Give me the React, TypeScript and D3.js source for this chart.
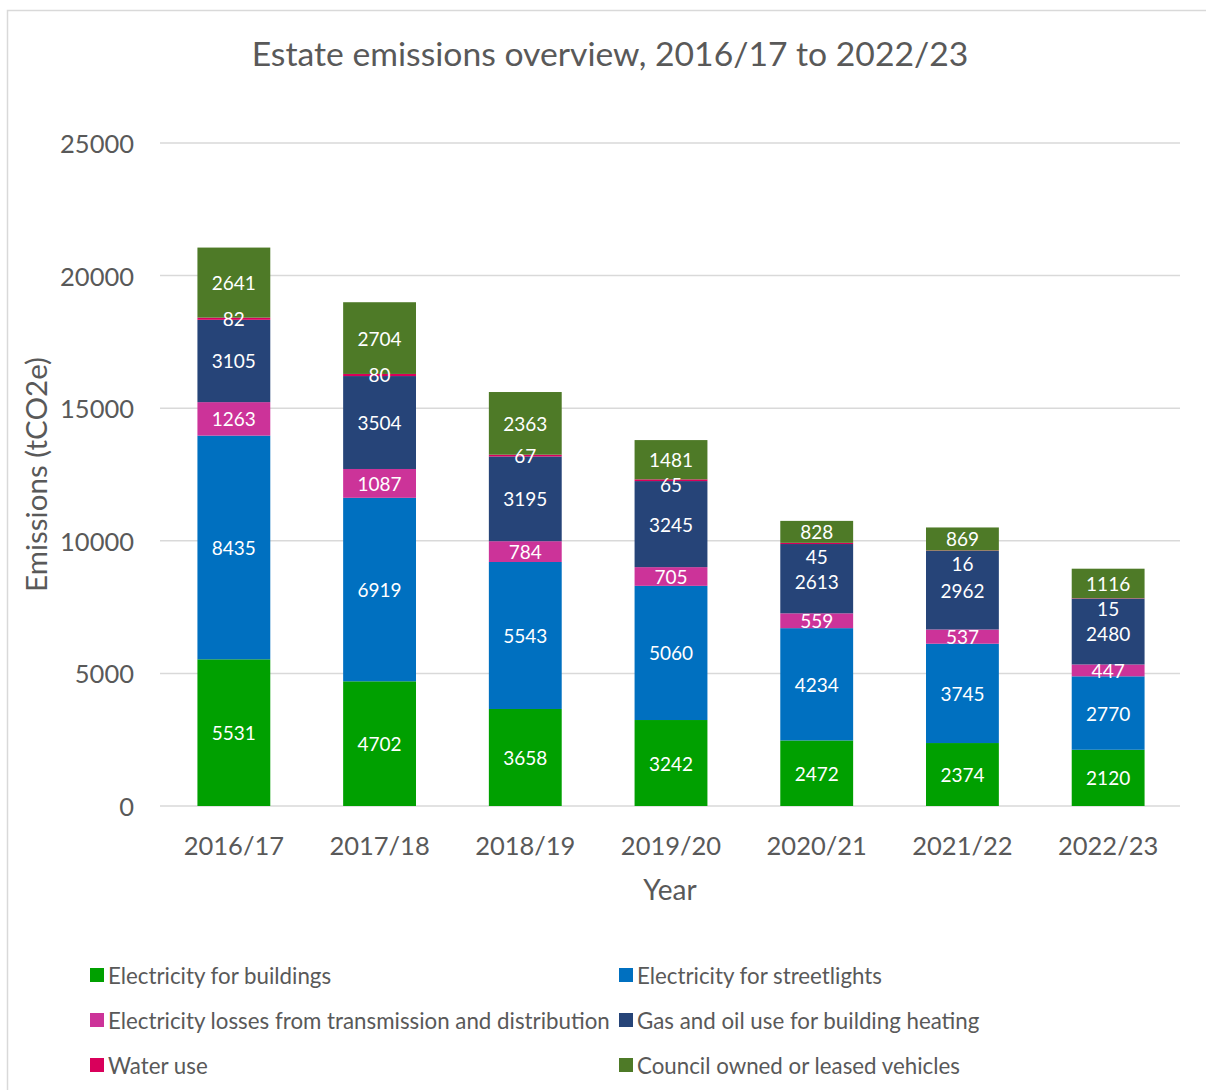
import React, { useEffect } from "react";
import * as d3 from "d3";

const years = ["2016/17", "2017/18", "2018/19", "2019/20", "2020/21", "2021/22", "2022/23"];
const elecBuildings = [5531, 4702, 3658, 3242, 2472, 2374, 2120];
const elecStreetlights = [8435, 6919, 5543, 5060, 4234, 3745, 2770];
const elecLosses = [1263, 1087, 784, 705, 559, 537, 447];
const gasOil = [3105, 3504, 3195, 3245, 2613, 2962, 2480];
const waterUse = [82, 80, 67, 65, 45, 16, 15];
const vehicles = [2641, 2704, 2363, 1481, 828, 869, 1116];
const yTicks = [0, 5000, 10000, 15000, 20000, 25000];

const seriesNames = [
  "Electricity for buildings",
  "Electricity for streetlights",
  "Electricity losses from transmission and distribution",
  "Gas and oil use for building heating",
  "Water use",
  "Council owned or leased vehicles",
];
const seriesValues = [elecBuildings, elecStreetlights, elecLosses, gasOil, waterUse, vehicles];
const colors = ["#00A000", "#0070C0", "#CC3399", "#264478", "#D9005B", "#4E7A27"];

const W = 1206;
const H = 1090;
const FONT = "Lato, 'Open Sans', sans-serif";
const TEXT = "#595959";

export default function App() {
  useEffect(() => {
    document.body.style.margin = "0";
  }, []);

  const plot = { left: 160, right: 1180, top: 143, bottom: 806 };
  const x = d3.scaleBand<string>().domain(years).range([plot.left + 1, plot.right + 1]).paddingInner(0.5).paddingOuter(0.25);
  const y = d3.scaleLinear().domain([0, 25000]).range([plot.bottom, plot.top]);

  const table = years.map((yr, i) => {
    const row: any = { year: yr };
    seriesNames.forEach((n, s) => (row[n] = seriesValues[s][i]));
    return row;
  });
  const stack = d3.stack<any>().keys(seriesNames)(table);

  // label positions: top-down, avoid overlap
  const labelY: number[][] = years.map(() => new Array(seriesNames.length).fill(0));
  years.forEach((_, i) => {
    let prev = -Infinity;
    for (let s = seriesNames.length - 1; s >= 0; s--) {
      const seg = stack[s][i];
      const c = (y(seg[0]) + y(seg[1])) / 2;
      const ly = Math.max(c, prev + 25);
      labelY[i][s] = ly;
      prev = ly;
    }
  });

  const legendCols = [90, 619];
  const legendRows = [975, 1020, 1065];

  return (
    <svg width={W} height={H} style={{ display: "block", fontFamily: FONT }}>
      <rect x={0} y={0} width={W} height={H} fill="#fff" />
      <rect x={7.5} y={10.5} width={W + 20} height={H + 20} fill="none" stroke="#d9d9d9" strokeWidth={1.5} />
      <text x={610} y={53} textAnchor="middle" dominantBaseline="central" fontSize={33.7} fill={TEXT}>
        Estate emissions overview, 2016/17 to 2022/23
      </text>
      {yTicks.map((t) => (
        <g key={t}>
          <line x1={plot.left} x2={plot.right} y1={y(t)} y2={y(t)} stroke="#d9d9d9" strokeWidth={1.5} />
          <text x={134} y={y(t)} textAnchor="end" dominantBaseline="central" fontSize={25.5} fill={TEXT}>
            {t}
          </text>
        </g>
      ))}
      {stack.map((layer, s) =>
        layer.map((seg, i) => (
          <rect
            key={`${s}-${i}`}
            x={x(years[i])!}
            width={x.bandwidth()}
            y={y(seg[1])}
            height={y(seg[0]) - y(seg[1])}
            fill={colors[s]}
          />
        ))
      )}
      {stack.map((layer, s) =>
        layer.map((seg, i) => (
          <text
            key={`l-${s}-${i}`}
            x={x(years[i])! + x.bandwidth() / 2}
            y={labelY[i][s]}
            textAnchor="middle"
            dominantBaseline="central"
            fontSize={19}
            fill="#fff"
          >
            {seriesValues[s][i]}
          </text>
        ))
      )}
      {years.map((yr) => (
        <text key={yr} x={x(yr)! + x.bandwidth() / 2} y={845} textAnchor="middle" dominantBaseline="central" fontSize={25.5} fill={TEXT}>
          {yr}
        </text>
      ))}
      <text x={670} y={889} textAnchor="middle" dominantBaseline="central" fontSize={28} fill={TEXT}>
        Year
      </text>
      <text
        transform={`translate(35, ${(plot.top + plot.bottom) / 2}) rotate(-90)`}
        textAnchor="middle"
        dominantBaseline="central"
        fontSize={29.5}
        fill={TEXT}
      >
        Emissions (tCO2e)
      </text>
      {seriesNames.map((n, s) => {
        const lx = legendCols[s % 2];
        const ly = legendRows[Math.floor(s / 2)];
        return (
          <g key={n}>
            <rect x={lx} y={ly - 7} width={14} height={14} fill={colors[s]} />
            <text x={lx + 18} y={ly} dominantBaseline="central" fontSize={22.3} fill={TEXT}>
              {n}
            </text>
          </g>
        );
      })}
    </svg>
  );
}
